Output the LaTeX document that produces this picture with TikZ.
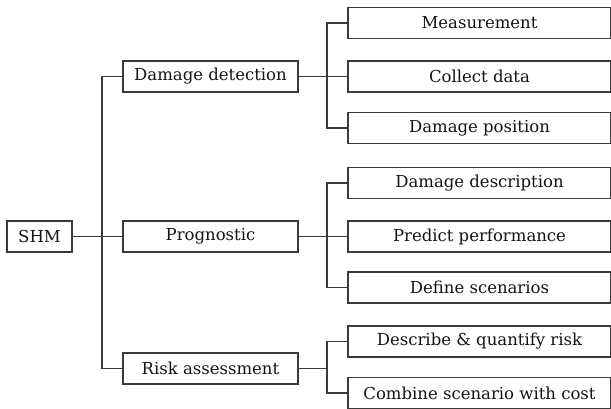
\documentclass[tikz,border=0pt]{standalone}
\usepackage{fontspec}
\setmainfont{DejaVu Serif}
\usetikzlibrary{positioning}
\definecolor{linegray}{HTML}{3A3A3A}
\definecolor{textgray}{HTML}{141414}

\begin{document}
\begin{tikzpicture}[x=1pt,y=-1pt,box/.style={draw=linegray,line width=1.3pt,fill=white,
text=textgray,font=\fontsize{16.5}{19}\selectfont,minimum height=31pt,inner sep=0pt},
midbox/.style={box,minimum width=175pt},leaf/.style={box,minimum width=263pt},
link/.style={draw=linegray,line width=1.3pt}]
\path[use as bounding box,clip] (0,0) rectangle (611,409);
\node[box,minimum width=65pt] (shm) at (39.5,236.5) {SHM};
\node[midbox] (detect) at (210.5,76.5) {Damage detection};
\node[midbox] (prog) at (210.5,236.5) {Prognostic};
\node[midbox] (risk) at (210.5,368.5) {Risk assessment};
\node[leaf] (meas) at (479.5,23) {Measurement};
\node[leaf] (coll) at (479.5,76.5) {Collect data};
\node[leaf] (pos) at (479.5,128) {Damage position};
\node[leaf] (desc) at (479.5,183) {Damage description};
\node[leaf] (pred) at (479.5,236.5) {Predict performance};
\node[leaf] (scen) at (479.5,287.5) {Define scenarios};
\node[leaf] (quant) at (479.5,341.5) {Describe \& quantify risk};
\node[leaf] (cost) at (479.5,393) {Combine scenario with cost};
% junctions
\coordinate (jroot) at (102,236.5);
\coordinate (jdet) at (327,76.5);
\coordinate (jprog) at (327,236.5);
\coordinate (jrisk) at (327,368.5);
\draw[link] (shm)--(prog);
\draw[link] (detect.west)-|(jroot)|-(risk.west);
\draw[link] (detect)--(coll);\draw[link] (meas.west)-|(jdet)|-(pos.west);
\draw[link] (prog)--(pred);\draw[link] (desc.west)-|(jprog)|-(scen.west);
\draw[link] (risk.east)--(jrisk);\draw[link] (quant.west)-|(jrisk)|-(cost.west);
\end{tikzpicture}
\end{document}
